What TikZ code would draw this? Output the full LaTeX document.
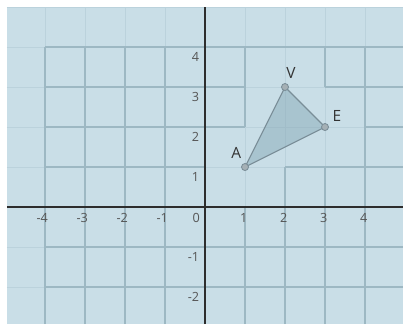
\documentclass[tikz,border=0pt]{standalone}
\usepackage{fontspec}
\setmainfont{Open Sans}
\usetikzlibrary{positioning}
\definecolor{bgblue}{RGB}{201,222,231}
\definecolor{faintgrid}{RGB}{187,210,220}
\definecolor{darkgrid}{RGB}{157,184,195}
\definecolor{axisgray}{RGB}{45,45,45}
\definecolor{trifill}{RGB}{130,165,178}
\definecolor{triedge}{RGB}{122,142,152}
\definecolor{dotfill}{RGB}{165,176,181}
\definecolor{numgray}{RGB}{85,85,85}
\tikzset{
  faintline/.style = {draw=faintgrid, line width=0.6pt},
  gridline/.style  = {draw=darkgrid, line width=0.8pt},
  axisline/.style  = {draw=axisgray, line width=0.9pt},
  tri/.style       = {fill=trifill, fill opacity=0.45, draw=triedge, line width=0.8pt},
  vertex/.style    = {circle, draw=triedge, fill=dotfill, line width=0.6pt,
                      minimum size=5pt, inner sep=0pt},
  ptlabel/.style   = {font=\fontsize{11}{13}\selectfont, text=black!80, inner sep=0pt},
  tick/.style      = {font=\small, text=numgray, inner sep=0pt}
}

\begin{document}
\begin{tikzpicture}[x=1cm, y=1cm]
\useasboundingbox (-5.125,-2.925) rectangle (4.95,5.175);
% ---- background and faint grid ----
\fill[bgblue] (-4.95,-2.925) rectangle (4.95,5);
\draw[faintline] (-4.95,-2.925) grid (4.95,5);

% ---- darker grid pieces ----
\foreach \x in {-4,-3,-2,-1,4}
  \draw[gridline] (\x,-2.925) -- (\x,4);
\draw[gridline] (1,-2.925) -- (1,0);
\draw[gridline] (1,2) -- (1,4);
\draw[gridline] (2,-2.925) -- (2,1);
\draw[gridline] (3,-2.925) -- (3,1);
\draw[gridline] (3,3) -- (3,4);
\foreach \y in {4,-1,-2}
  \draw[gridline] (-4,\y) -- (4.95,\y);
\draw[gridline] (-4,3) -- (1,3);
\draw[gridline] (3,3) -- (4.95,3);
\draw[gridline] (-4,2) -- (1,2);
\draw[gridline] (4,2) -- (4.95,2);
\draw[gridline] (-4,1) -- (0,1);
\draw[gridline] (2,1) -- (4.95,1);

% ---- axes ----
\draw[axisline] (-4.95,0) -- (4.95,0);
\draw[axisline] (0,-2.925) -- (0,5);

% ---- tick numbers ----
\foreach \x in {-4,-3,-2,-1}
  \node[tick] (tx\x) at (\x-0.07,-0.28) {\x};
\foreach \x in {1,2,3,4}
  \node[tick] (tx\x) at (\x-0.03,-0.28) {\x};
\node[tick] (t0) at (-0.22,-0.28) {0};
\foreach \y in {-2,-1,1,2,3,4}
  \node[tick, anchor=east] (ty\y) at (-0.14,\y-0.25) {\y};

% ---- triangle AVE ----
\coordinate (pA) at (1,1);
\coordinate (pV) at (2,3);
\coordinate (pE) at (3,2);
\filldraw[tri] (pA) -- (pV) -- (pE) -- cycle;
\node[vertex] (A) at (pA) {};
\node[vertex] (V) at (pV) {};
\node[vertex] (E) at (pE) {};
\node[ptlabel] (lA) at (0.78,1.36) {A};
\node[ptlabel] (lV) at (2.15,3.34) {V};
\node[ptlabel] (lE) at (3.3,2.28) {E};
\end{tikzpicture}
\end{document}
